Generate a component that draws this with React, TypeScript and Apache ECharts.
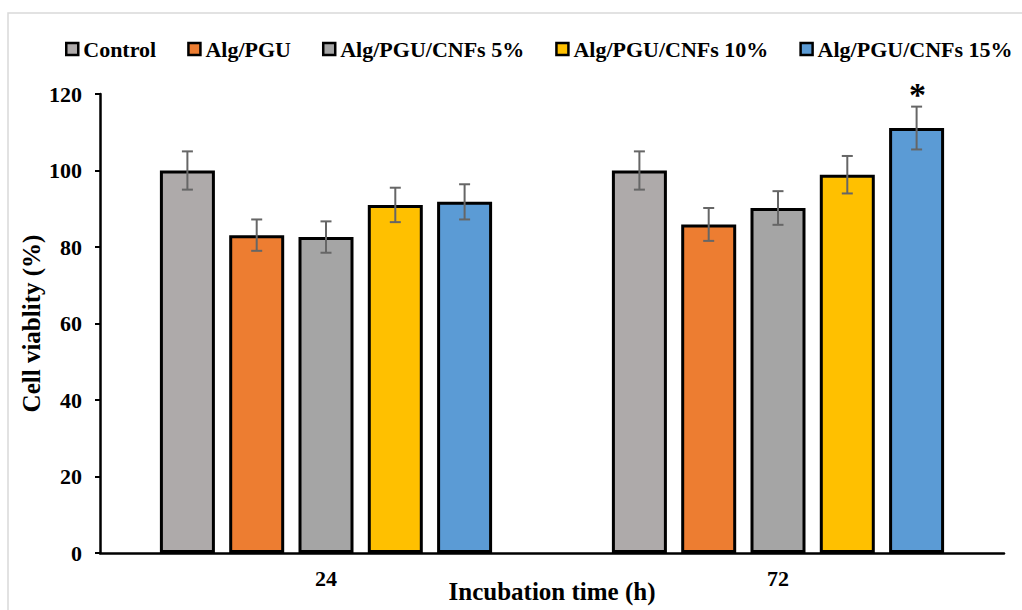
import React, { useEffect, useRef } from "react";
import * as echarts from "echarts";

const categories = ["24", "72"];
const seriesNames = ["Control", "Alg/PGU", "Alg/PGU/CNFs 5%", "Alg/PGU/CNFs 10%", "Alg/PGU/CNFs 15%"];
const control = [100, 100];
const controlErr = [5, 5];
const algPgu = [83.1, 85.9];
const algPguErr = [4.1, 4.3];
const cnf5 = [82.6, 90.2];
const cnf5Err = [4.1, 4.4];
const cnf10 = [91.0, 98.9];
const cnf10Err = [4.5, 4.9];
const cnf15 = [91.8, 111.1];
const cnf15Err = [4.6, 5.6];
const cnf15Marks = ["", "*"];
const yTicks = { min: 0, max: 120, interval: 20 };

const colors = ["#AEAAAA", "#ED7D31", "#A5A5A5", "#FFC000", "#5B9BD5"];
const FONT = "'Liberation Serif', 'Times New Roman', serif";
const BAR_W = 55;
const BAR_GAP = 0.26;

export default function App() {
  const ref = useRef<HTMLDivElement>(null);
  useEffect(() => {
    if (!ref.current) return;
    const chart = echarts.init(ref.current, null, { renderer: "svg" });
    const values = [control, algPgu, cnf5, cnf10, cnf15];
    const errs = [controlErr, algPguErr, cnf5Err, cnf10Err, cnf15Err];
    const marks = [["", ""], ["", ""], ["", ""], ["", ""], cnf15Marks];
    const n = values.length;

    const barSeries = values.map((v, k) => ({
      name: seriesNames[k],
      type: "bar",
      data: v,
      barWidth: BAR_W,
      barGap: `${BAR_GAP * 100}%`,
      itemStyle: { color: colors[k], borderColor: "#000", borderWidth: 3 },
      z: 2,
    }));

    const errSeries = values.map((v, k) => ({
      name: seriesNames[k] + " err",
      type: "custom",
      z: 5,
      silent: true,
      data: v.map((val, i) => [i, val, errs[k][i]]),
      encode: { x: 0, y: 1 },
      renderItem: (params: any, api: any) => {
        const ci = api.value(0);
        const val = api.value(1);
        const e = api.value(2);
        const mark = marks[k][ci];
        const offset = (k - (n - 1) / 2) * BAR_W * (1 + BAR_GAP);
        const hi = api.coord([ci, val + e]);
        const lo = api.coord([ci, val - e]);
        const x = hi[0] + offset;
        const cap = 5.5;
        const st = { stroke: "#666666", lineWidth: 2 };
        const children: any[] = [
          { type: "line", shape: { x1: x, y1: hi[1], x2: x, y2: lo[1] }, style: st },
          { type: "line", shape: { x1: x - cap, y1: hi[1], x2: x + cap, y2: hi[1] }, style: st },
          { type: "line", shape: { x1: x - cap, y1: lo[1], x2: x + cap, y2: lo[1] }, style: st },
        ];
        if (mark) {
          children.push({
            type: "text",
            style: {
              text: mark,
              x: x + 1,
              y: hi[1] + 5,
              align: "center",
              verticalAlign: "bottom",
              font: `bold 34px ${FONT}`,
              fill: "#000",
            },
          });
        }
        return { type: "group", children };
      },
    }));

    chart.setOption({
      animation: false,
      backgroundColor: "#fff",
      graphic: [
        {
          type: "rect",
          shape: { x: 8, y: 13, width: 1040, height: 640 },
          style: { fill: "none", stroke: "#d9d9d9", lineWidth: 1.5 },
          silent: true,
        },
      ],
      legend: {
        data: seriesNames,
        left: 60,
        top: 33,
        itemWidth: 12,
        itemHeight: 12,
        itemGap: 31,
        icon: "rect",
        itemStyle: { borderColor: "#000", borderWidth: 2.5 },
        textStyle: { fontFamily: FONT, fontWeight: "bold", fontSize: 22, color: "#000" },
      },
      grid: { left: 100, right: 18, top: 94, bottom: 57, containLabel: false, outerBoundsMode: "none" },
      xAxis: {
        type: "category",
        data: categories,
        name: "Incubation time (h)",
        nameLocation: "middle",
        nameGap: 26,
        nameMoveOverlap: false,
        nameTextStyle: { fontFamily: FONT, fontWeight: "bold", fontSize: 25, color: "#000" },
        axisLine: { lineStyle: { color: "#000", width: 2.5 } },
        axisTick: { show: false },
        axisLabel: { margin: 14, fontFamily: FONT, fontWeight: "bold", fontSize: 22, color: "#000" },
      },
      yAxis: {
        type: "value",
        min: yTicks.min,
        max: yTicks.max,
        interval: yTicks.interval,
        name: "Cell viablity (%)",
        nameLocation: "middle",
        nameGap: 56,
        nameMoveOverlap: false,
        nameTextStyle: { fontFamily: FONT, fontWeight: "bold", fontSize: 25, color: "#000" },
        axisLine: { show: true, lineStyle: { color: "#000", width: 2.5 } },
        axisTick: { show: true, length: 5, lineStyle: { color: "#000", width: 2 } },
        splitLine: { show: false },
        axisLabel: { margin: 18, fontFamily: FONT, fontWeight: "bold", fontSize: 22, color: "#000" },
      },
      series: [...barSeries, ...errSeries],
    });
    return () => chart.dispose();
  }, []);
  return (
    <div
      ref={ref}
      style={{ position: "fixed", left: 0, top: 0, width: 1022, height: 610, background: "#fff" }}
    />
  );
}
